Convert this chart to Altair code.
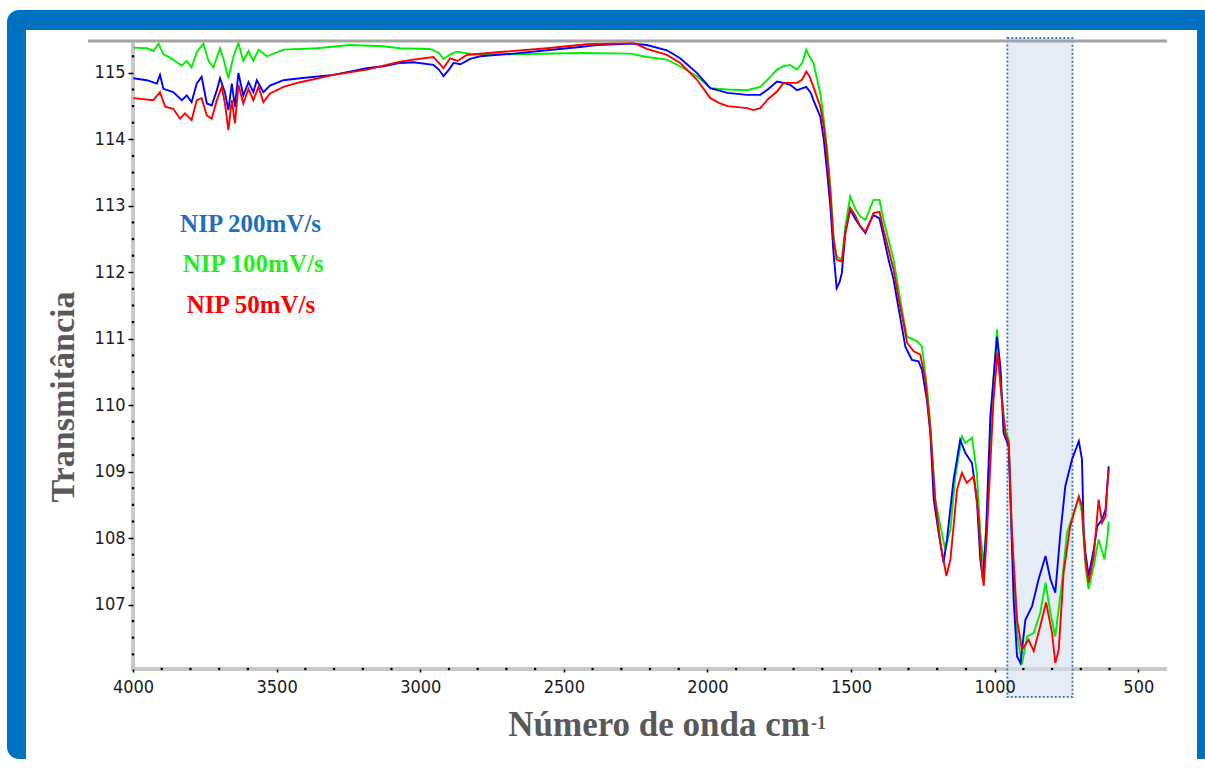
import altair as alt
import pandas as pd

# ---------------- data ----------------
# Wavenumber (cm-1) and transmittance for each series
blue_w = [3999, 3952, 3917, 3906, 3894, 3860, 3830, 3813, 3796, 3778, 3761, 3743, 3726, 3708, 3697,
          3680, 3668, 3656, 3645, 3633, 3616, 3598, 3581, 3569, 3546, 3523, 3476, 3418, 3302, 3186,
          3128, 3070, 3024, 2954, 2935, 2919, 2900, 2884, 2860, 2826, 2791, 2675, 2559, 2443, 2385,
          2257, 2211, 2141, 2095, 2037, 1990, 1930, 1862, 1816, 1790, 1758, 1735, 1712, 1688, 1656,
          1640, 1631, 1607, 1595, 1584, 1572, 1561, 1550, 1540, 1532, 1520, 1503, 1485, 1468, 1450,
          1435, 1422, 1401, 1387, 1370, 1352, 1340, 1328, 1311, 1288, 1265, 1253, 1236, 1224, 1212,
          1195, 1178, 1166, 1143, 1120, 1102, 1079, 1062, 1050, 1041, 1030, 1015, 992, 980, 969,
          951, 945, 934, 922, 910, 893, 870, 847, 823, 806, 789, 771, 754, 731, 707,
          696, 690, 684, 673, 655, 643, 626, 614, 608, 603]
blue_t = [114.92, 114.89, 114.84, 114.97, 114.76, 114.71, 114.59, 114.66, 114.56, 114.84, 114.94, 114.54, 114.51, 114.74, 114.92,
          114.71, 114.44, 114.84, 114.49, 115.00, 114.66, 114.86, 114.71, 114.89, 114.71, 114.81, 114.89, 114.92, 114.97, 115.07,
          115.10, 115.15, 115.16, 115.12, 115.05, 114.95, 115.05, 115.15, 115.13, 115.21, 115.25, 115.29, 115.34, 115.39, 115.42,
          115.44, 115.42, 115.34, 115.22, 115.00, 114.77, 114.70, 114.67, 114.67, 114.75, 114.87, 114.85, 114.82, 114.74, 114.79,
          114.70, 114.59, 114.34, 114.00, 113.54, 112.99, 112.29, 111.76, 111.85, 111.99, 112.59, 112.94, 112.80, 112.69, 112.59,
          112.75, 112.86, 112.81, 112.54, 112.20, 111.89, 111.59, 111.30, 110.88, 110.68, 110.66, 110.53, 110.08, 109.58, 108.58,
          108.08, 107.63, 107.98, 108.88, 109.48, 109.28, 109.13, 108.58, 107.68, 107.38, 108.08, 109.83, 111.03, 110.58, 109.58,
          109.38, 108.58, 107.08, 106.22, 106.12, 106.77, 106.97, 107.38, 107.73, 107.38, 107.18, 108.08, 108.78, 109.18, 109.46,
          109.18, 108.08, 107.78, 107.43, 107.83, 108.18, 108.28, 108.43, 108.78, 109.08]

green_w = [3999, 3952, 3929, 3911, 3894, 3871, 3848, 3830, 3813, 3796, 3778, 3755, 3737, 3720, 3697,
           3683, 3668, 3650, 3633, 3616, 3598, 3581, 3563, 3534, 3476, 3360, 3244, 3128, 3070, 2966,
           2935, 2919, 2895, 2873, 2815, 2675, 2443, 2269, 2211, 2141, 2095, 2037, 1990, 1930, 1862,
           1816, 1790, 1758, 1735, 1712, 1688, 1670, 1656, 1645, 1631, 1607, 1595, 1584, 1572, 1561,
           1550, 1532, 1520, 1503, 1485, 1468, 1450, 1435, 1422, 1401, 1387, 1370, 1352, 1329, 1317,
           1305, 1270, 1253, 1236, 1224, 1207, 1189, 1172, 1154, 1137, 1114, 1102, 1079, 1062, 1050,
           1038, 1027, 1009, 992, 980, 963, 951, 940, 922, 905, 887, 864, 841, 823, 806,
           789, 766, 748, 725, 707, 696, 684, 673, 655, 638, 618, 608, 603]
green_t = [115.38, 115.37, 115.33, 115.44, 115.28, 115.23, 115.16, 115.11, 115.18, 115.08, 115.31, 115.44, 115.18, 115.08, 115.37,
           115.18, 114.92, 115.25, 115.45, 115.18, 115.33, 115.18, 115.35, 115.25, 115.35, 115.37, 115.42, 115.40, 115.37, 115.36,
           115.30, 115.21, 115.28, 115.32, 115.28, 115.28, 115.30, 115.29, 115.24, 115.20, 115.10, 114.95, 114.77, 114.75, 114.74,
           114.79, 114.90, 115.05, 115.10, 115.12, 115.05, 115.15, 115.35, 115.25, 115.15, 114.69, 114.30, 113.89, 113.29, 112.54,
           112.24, 112.19, 112.69, 113.14, 112.95, 112.84, 112.79, 112.95, 113.09, 113.09, 112.79, 112.50, 112.19, 111.59, 111.30,
           111.03, 110.96, 110.88, 110.28, 109.73, 108.58, 108.18, 107.83, 108.13, 108.93, 109.53, 109.43, 109.51, 108.98, 108.08,
           107.58, 108.33, 110.08, 111.14, 110.33, 109.63, 109.48, 108.08, 106.57, 106.10, 106.52, 106.57, 106.88, 107.33, 106.88,
           106.52, 107.33, 108.08, 108.38, 108.60, 108.38, 107.58, 107.23, 107.58, 107.98, 107.68, 107.98, 108.25]

red_w = [3999, 3929, 3906, 3888, 3860, 3836, 3819, 3796, 3778, 3761, 3743, 3726, 3708, 3691, 3680,
         3668, 3656, 3645, 3633, 3616, 3598, 3581, 3563, 3546, 3523, 3476, 3418, 3302, 3186, 3070,
         3024, 2954, 2935, 2919, 2896, 2870, 2838, 2733, 2559, 2420, 2257, 2211, 2141, 2095, 2037,
         1990, 1960, 1930, 1862, 1840, 1816, 1790, 1758, 1735, 1712, 1688, 1670, 1656, 1645, 1631,
         1607, 1595, 1584, 1572, 1561, 1550, 1532, 1520, 1503, 1485, 1468, 1450, 1435, 1422, 1401,
         1387, 1370, 1352, 1334, 1320, 1305, 1282, 1259, 1241, 1224, 1207, 1189, 1168, 1154, 1131,
         1114, 1097, 1073, 1056, 1044, 1038, 1027, 1004, 990, 975, 963, 951, 940, 922, 905,
         882, 864, 841, 821, 800, 789, 777, 760, 737, 707, 696, 684, 673, 655, 638,
         626, 614, 608, 603]
red_t = [114.62, 114.59, 114.71, 114.49, 114.46, 114.31, 114.39, 114.29, 114.59, 114.62, 114.36, 114.31, 114.59, 114.79, 114.54,
         114.14, 114.59, 114.24, 114.82, 114.54, 114.76, 114.59, 114.79, 114.56, 114.69, 114.79, 114.86, 114.97, 115.05, 115.17,
         115.20, 115.24, 115.15, 115.07, 115.22, 115.18, 115.27, 115.31, 115.37, 115.43, 115.45, 115.36, 115.27, 115.15, 114.90,
         114.62, 114.55, 114.50, 114.47, 114.44, 114.47, 114.60, 114.72, 114.85, 114.85, 114.85, 114.90, 115.02, 114.95, 114.79,
         114.49, 114.20, 113.79, 113.19, 112.49, 112.19, 112.16, 112.59, 112.97, 112.85, 112.69, 112.61, 112.75, 112.89, 112.91,
         112.64, 112.35, 112.04, 111.59, 111.30, 110.94, 110.81, 110.76, 110.38, 109.63, 108.58, 107.93, 107.43, 107.68, 108.73,
         108.98, 108.83, 108.93, 108.33, 107.48, 107.28, 108.08, 110.08, 110.79, 110.08, 109.58, 109.43, 108.08, 106.77, 106.32,
         106.47, 106.30, 106.68, 107.03, 106.57, 106.12, 106.32, 107.48, 108.18, 108.63, 108.48, 107.68, 107.33, 107.73, 108.58,
         108.23, 108.33, 108.78, 109.03]

series_names = ["NIP 200mV/s", "NIP 100mV/s", "NIP 50mV/s"]
series_colors = ["#0000FF", "#00EE00", "#FF0000"]
label_colors = ["#1E6FBF", "#22EE22", "#FF0000"]
label_w = [3836, 3827, 3813]
label_t = [112.61, 112.01, 111.39]

x_major = [4000, 3500, 3000, 2500, 2000, 1500, 1000, 500]
x_minor = [v for v in range(3900, 499, -100) if v % 500 != 0]
y_major = [107, 108, 109, 110, 111, 112, 113, 114, 115]
y_minor = [106 + 0.25 * i for i in range(1, 38) if (i % 4) != 0]

band_from = [956]
band_to = [729]

X_DOMAIN = [400, 4000]
Y_DOMAIN = [106.03, 115.48]
x_title = "Número de onda cm"
x_title_sup = "-1"
y_title = "Transmitância"

# ---------------- layout ----------------
W, H = 1034, 628
PAD = {"left": 133, "top": 41, "right": 1205 - 133 - W, "bottom": 776 - 41 - H}
LABEL_FONT = "Liberation Sans Narrow, Arial Narrow, DejaVu Sans Condensed, sans-serif"
SERIF = "Liberation Serif, Times New Roman, serif"

xs = alt.Scale(domain=X_DOMAIN, reverse=True, nice=False, zero=False)
ys = alt.Scale(domain=Y_DOMAIN, nice=False, zero=False)

x_axis = alt.Axis(values=x_major, format="d", title=None, grid=False, domain=False,
                  tickColor="black", tickSize=3, tickWidth=1.5, labelFont=LABEL_FONT,
                  labelFontSize=18, labelColor="#1a1a1a", labelPadding=6,
                  labelFlush=False, zindex=1)
y_axis = alt.Axis(values=y_major, format="d", title=None, grid=False, domain=False,
                  tickColor="black", tickSize=5, tickWidth=1.5, labelFont=LABEL_FONT,
                  labelFontSize=18, labelColor="#1a1a1a", labelPadding=3, zindex=1)


def X(field):
    return alt.X(field, type="quantitative", scale=xs, axis=x_axis)


def Y(field):
    return alt.Y(field, type="quantitative", scale=ys, axis=y_axis)


one = pd.DataFrame({"k": [0]})

outer = alt.Chart(one).mark_rect(color="#0070C0", cornerRadius=12).encode(
    x=alt.value(-126), x2=alt.value(W + 60), y=alt.value(-31), y2=alt.value(H + 90))
inner = alt.Chart(one).mark_rect(color="white").encode(
    x=alt.value(-107), x2=alt.value(1064), y=alt.value(-11), y2=alt.value(722))

# gray axis bands (domain lines)
x_domain_line = alt.Chart(one).mark_rule(color="#c8c8c8", strokeWidth=4).encode(
    x=alt.value(-2), x2=alt.value(W), y=alt.value(H))
y_domain_line = alt.Chart(one).mark_rule(color="#c8c8c8", strokeWidth=4).encode(
    x=alt.value(0), y=alt.value(0), y2=alt.value(H + 2))

band_df = pd.DataFrame({"a": band_from, "b": band_to})
band = alt.Chart(band_df).mark_rect(fill="#d3dfee", fillOpacity=0.6, stroke="#3f7cc4",
                                    strokeWidth=2, strokeDash=[2, 2]).encode(
    x=X("a"), x2="b:Q",
    y=alt.value(-3), y2=alt.value(656))


def line_layer(ws, ts, color):
    df = pd.DataFrame({"w": ws, "t": ts})
    return alt.Chart(df).mark_line(color=color, strokeWidth=1.9).encode(
        x=X("w"), y=Y("t"),
        order=alt.Order("w:Q", sort="descending"))


green_line = line_layer(green_w, green_t, series_colors[1])
blue_line = line_layer(blue_w, blue_t, series_colors[0])
red_line = line_layer(red_w, red_t, series_colors[2])

top_rule = alt.Chart(one).mark_rule(color="#a3a3a3", strokeWidth=3).encode(
    x=alt.value(-45), x2=alt.value(W), y=alt.value(0))

xm_df = pd.DataFrame({"w": x_minor, "t": [Y_DOMAIN[0]] * len(x_minor)})
x_minor_pts = alt.Chart(xm_df).mark_square(size=5, color="black", opacity=1).encode(
    x=X("w"), y=Y("t"))
ym_df = pd.DataFrame({"w": [X_DOMAIN[1]] * len(y_minor), "t": y_minor})
y_minor_pts = alt.Chart(ym_df).mark_square(size=5, color="black", opacity=1).encode(
    x=X("w"), y=Y("t"))

lab_df = pd.DataFrame({"name": series_names, "w": label_w, "t": label_t, "c": label_colors})
labels = alt.Chart(lab_df).mark_text(font=SERIF, fontWeight="bold", fontSize=25,
                                      align="left", baseline="alphabetic").encode(
    x=X("w"), y=Y("t"),
    text="name:N", color=alt.Color("c:N", scale=None))

xt = alt.Chart(one).mark_text(text=x_title, font=SERIF, fontWeight="bold", fontSize=35,
                              color="#595959", align="right", baseline="alphabetic").encode(
    x=alt.value(677), y=alt.value(695))
xt_sup = alt.Chart(one).mark_text(text=x_title_sup, font=SERIF, fontWeight="bold", fontSize=18,
                                  color="#595959", align="left", baseline="alphabetic").encode(
    x=alt.value(678), y=alt.value(688))
yt = alt.Chart(one).mark_text(text=y_title, font=SERIF, fontWeight="bold", fontSize=34,
                              color="#595959", align="center", baseline="alphabetic",
                              angle=270).encode(
    x=alt.value(-59), y=alt.value(356))

chart = alt.layer(
    outer, inner, x_domain_line, y_domain_line, band, green_line, blue_line, red_line,
    top_rule, x_minor_pts, y_minor_pts, labels, xt, xt_sup, yt
).properties(
    width=W, height=H, padding=PAD, background="white",
    autosize=alt.AutoSizeParams(type="none")
).configure_view(strokeWidth=0)

chart.save("out.html", embed_options={"renderer": "svg", "actions": False})
